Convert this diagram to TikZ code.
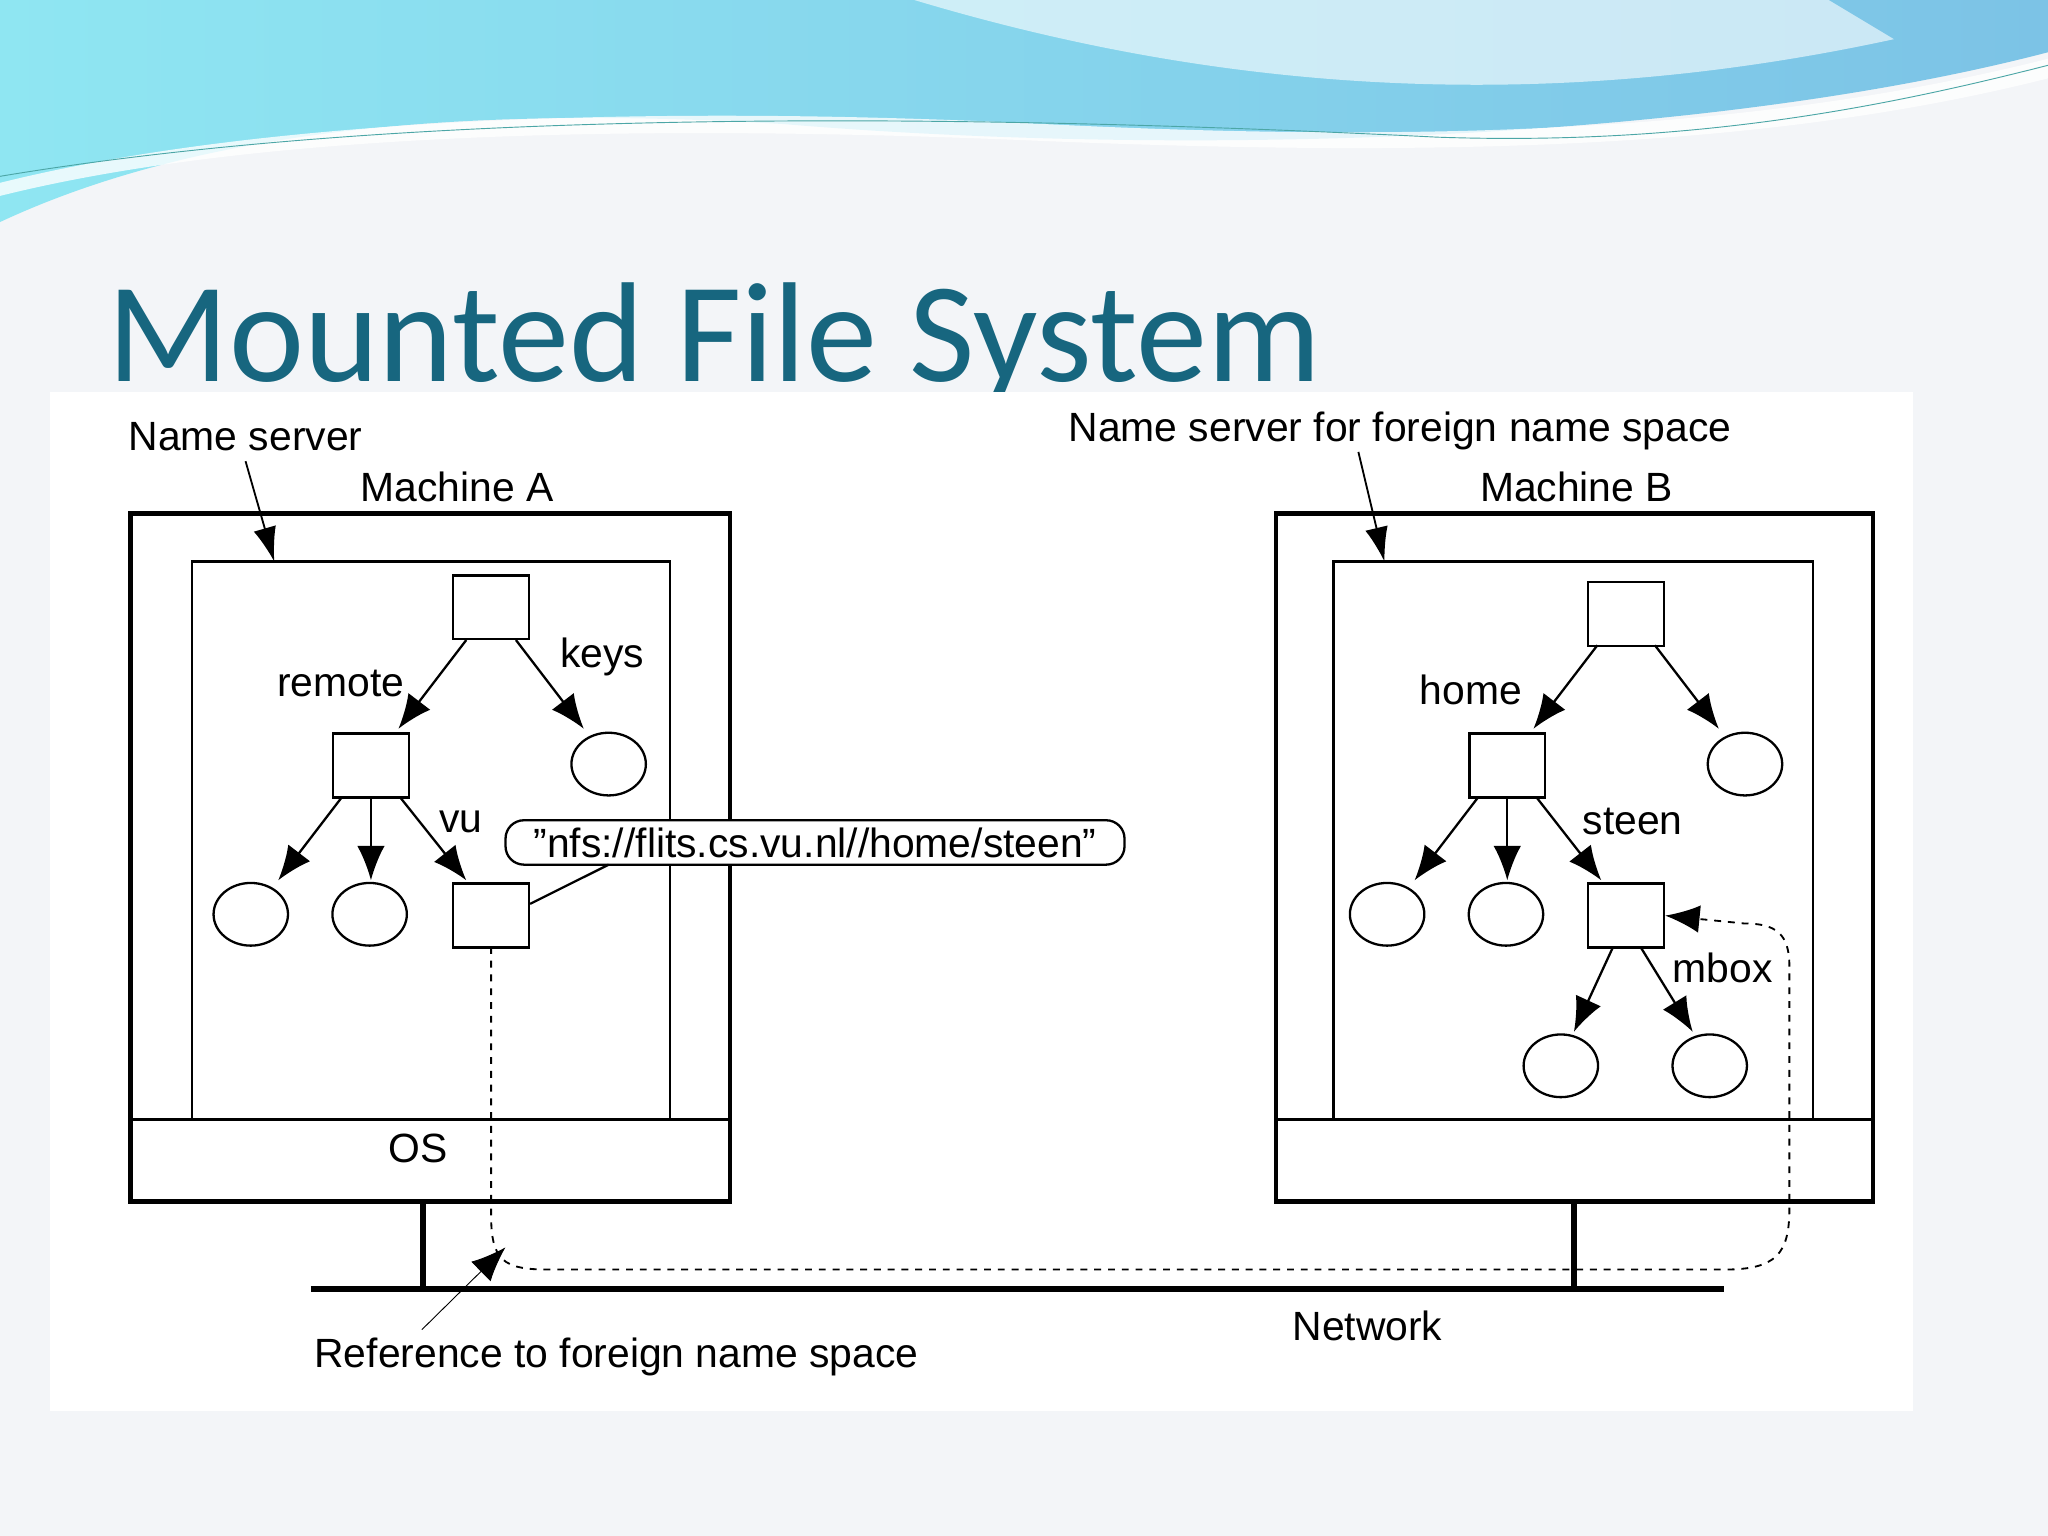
\documentclass[tikz,border=0pt]{standalone}
\usepackage{fontspec}
\setmainfont{Liberation Sans}
\newfontfamily\titlefont{Carlito}
\usetikzlibrary{arrows.meta,shapes.geometric}
\definecolor{bgc}{HTML}{F3F5F8}
\definecolor{titc}{HTML}{17667F}
\definecolor{cyan1}{HTML}{8FE6F2}
\definecolor{blue1}{HTML}{7CC3E6}
\begin{document}
\begin{tikzpicture}[x=0.02cm,y=-0.02cm,
  sq/.style={draw,line width=1pt,minimum width=1.16cm,minimum height=0.98cm,inner sep=0},
  ci/.style={draw,line width=1pt,ellipse,minimum width=1.14cm,minimum height=0.96cm,inner sep=0},
  arr/.style={line width=1pt,-{Latex[length=15pt,width=12pt]}},
  lbl/.style={font=\fontsize{17.8}{20}\selectfont},
  box/.style={draw,line width=2pt}]
\useasboundingbox (0,0) rectangle (1568,1176);
\fill[bgc] (0,0) rectangle (1568,1176);
% header wave
\shade[left color=cyan1,right color=blue1] (0,0) -- (1568,0) -- (1568,40) .. controls (1300,110) and (900,120) .. (600,95) .. controls (350,80) and (150,100) .. (0,170) -- cycle;
\fill[white,opacity=0.8] (0,140) .. controls (200,90) and (500,80) .. (800,95) .. controls (1100,110) and (1350,100) .. (1568,45) -- (1568,60) .. controls (1350,115) and (1100,120) .. (800,108) .. controls (500,95) and (200,100) .. (0,150) -- cycle;
\fill[white,opacity=0.6] (700,0) .. controls (900,60) and (1150,95) .. (1450,30) -- (1400,0) -- cycle;
\draw[teal!70,thin] (0,135) .. controls (300,85) and (700,85) .. (1100,105) .. controls (1300,112) and (1450,80) .. (1568,50);
% title
\node[anchor=base west,inner sep=0,text=titc,font=\titlefont\fontsize{62}{70}\selectfont] (title) at (82,292) {Mounted File System};
\fill[white] (38,300) rectangle (1465,1080);
% machines
\draw[box] (100,393) rectangle (559,920);
\draw[line width=1pt] (147,857) -- (147,430) -- (513,430) -- (513,857);
\draw[line width=1pt] (100,857) -- (559,857);
\draw[box] (977,393) rectangle (1434,920);
\draw[line width=1pt] (1021,857) -- (1021,430) -- (1388,430) -- (1388,857);
\draw[line width=1pt] (977,857) -- (1434,857);
\node[lbl] (os) at (320,879) {OS};
\node[lbl] (ma) at (350,373) {Machine A};
\node[lbl] (mb) at (1207,373) {Machine B};
\node[lbl] (ns) at (188,334) {Name server};
\node[lbl] (nsf) at (1072,330) {Name server for foreign name space};
\coordinate (nsa) at (210,430); \coordinate (nsb) at (1060,430);
\draw[thick,-{Latex[length=15pt,width=10pt]}] (ns.south) ++(0,2) -- (nsa);
\draw[thick,-{Latex[length=15pt,width=10pt]}] (1040,346) -- (nsb);
% network
\draw[line width=2.5pt] (238,987) -- (1320,987);
\draw[line width=2.5pt] (324,920) -- (324,987);
\draw[line width=2.5pt] (1205,920) -- (1205,987);
\node[lbl] (net) at (1047,1015) {Network};
\node[lbl] (ref) at (472,1039) {Reference to foreign name space};
% tree A
\node[sq] (ra) at (376,465) {};
\node[sq] (rem) at (284,586) {};
\node[ci] (keys) at (466,585) {};
\node[ci] (a1) at (192,700) {};
\node[ci] (a2) at (283,700) {};
\node[sq] (vu) at (376,701) {};
\draw[arr] (357,490) -- (305,558);
\draw[arr] (395,490) -- (447,558);
\draw[arr] (262,610) -- (213,674);
\draw[arr] (284,610) -- (284,674);
\draw[arr] (306,610) -- (357,674);
\node[lbl] (lrem) at (261,523) {remote};
\node[lbl] (lkeys) at (461,503) {keys};
\node[lbl] (lvu) at (353,629) {vu};
\node[draw,line width=1pt,rounded corners=8pt,fill=white,lbl,minimum width=9.48cm,minimum height=0.68cm,inner sep=0] (nfs) at (624,645) {\symbol{34}nfs://flits.cs.vu.nl//home/steen\symbol{34}};
\draw[line width=1pt] (vu.east) ++(0,-9) -- (466,662);
% tree B
\node[sq] (rb) at (1245,470) {};
\node[ci] (b0) at (1336,585) {};
\node[sq] (home) at (1154,586) {};
\node[ci] (b1) at (1062,700) {};
\node[ci] (b2) at (1153,700) {};
\node[sq] (steen) at (1245,701) {};
\node[ci] (b3) at (1195,816) {};
\node[ci] (b4) at (1309,816) {};
\draw[arr] (1223,494) -- (1174,558);
\draw[arr] (1267,494) -- (1316,558);
\draw[arr] (1132,610) -- (1083,674);
\draw[arr] (1154,610) -- (1154,674);
\draw[arr] (1176,610) -- (1226,674);
\draw[arr] (1235,725) -- (1205,790);
\draw[arr] (1256,725) -- (1296,790);
\node[lbl] (lhome) at (1126,528) {home};
\node[lbl] (lsteen) at (1250,629) {steen};
\node[lbl] (lmbox) at (1319,741) {mbox};
% dashed reference
\coordinate (dstart) at (376,725);
\draw[thick,dashed,-{Latex[length=15pt,width=12pt]}] (dstart) -- (376,930) .. controls (376,965) and (385,972) .. (420,972) -- (1320,972) .. controls (1360,972) and (1370,960) .. (1370,925) -- (1370,740) .. controls (1370,715) and (1360,707) .. (1335,707) -- (steen.east);
\coordinate (refa) at (387,955);
\draw[thin,-{Latex[length=15pt,width=12pt]}] (323,1018) -- (refa);
\end{tikzpicture}
\end{document}
